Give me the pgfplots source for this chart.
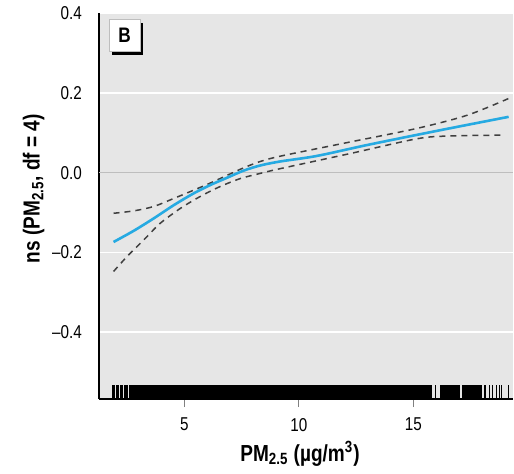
\documentclass[border=0pt]{standalone}
\usepackage{fontspec}
\setmainfont{Liberation Sans}[FakeStretch=0.82]
\usepackage{pgfplots}
\pgfplotsset{compat=1.18}

\definecolor{bggray}{RGB}{230,230,230}
\definecolor{zerogray}{RGB}{190,190,190}
\definecolor{fitblue}{RGB}{38,170,226}
\definecolor{cigray}{RGB}{64,64,64}

\begin{document}
\begin{tikzpicture}
\useasboundingbox (-49.5pt,-37pt) rectangle (207.5pt,199.5pt);
\begin{axis}[
    at={(0,0)}, anchor=south west,
    scale only axis,
    width=207pt, height=192.9pt,
    xmin=1.275, xmax=19.35,
    ymin=-0.568, ymax=0.4,
    axis background/.style={fill=bggray},
    axis x line=bottom, axis y line=left,
    axis line style={-, black, line width=0.6pt},
    xtick={5,10,15}, xticklabels={5,10,15},
    ytick={-0.4,-0.2,0,0.2,0.4},
    yticklabels={–0.4,–0.2,0.0,0.2,0.4},
    tick align=outside,
    x tick style={gray, line width=0.5pt},
    y tick style={draw=none},
    major tick length=4pt,
    ymajorgrids,
    major grid style={white, line width=0.8pt},
    tick label style={font=\fontsize{9.3}{10}\selectfont},
    xticklabel style={yshift=-2pt},
    yticklabel style={xshift=-1pt},
    label style={font=\bfseries\fontsize{11.6}{13}\selectfont},
    xlabel={PM\textsubscript{2.5} (µg/m\textsuperscript{3})},
    ylabel={ns (PM\textsubscript{2.5}, df = 4)},
    xlabel style={yshift=2pt, xshift=-3pt},
    ylabel style={at={(ticklabel cs:0.545)}, yshift=-3pt},
    clip=false,
]

% zero reference line
\addplot[zerogray, line width=0.8pt] coordinates {(1.275,0) (19.35,0)};

% upper confidence band
\addplot[cigray, line width=0.75pt, dash pattern=on 3pt off 2.5pt, smooth, tension=0.5] coordinates {
    (1.91,-0.102) (2.79,-0.096) (3.66,-0.085) (4.53,-0.065) (5.41,-0.044)
    (6.14,-0.026) (6.86,-0.007) (7.59,0.012) (8.32,0.028) (9.25,0.042)
    (12.25,0.077) (15.16,0.111) (17.35,0.144) (19.16,0.186)
};

% lower confidence band
\addplot[cigray, line width=0.75pt, dash pattern=on 3pt off 2.5pt, smooth, tension=0.5] coordinates {
    (1.91,-0.248) (2.49,-0.211) (2.93,-0.186) (3.43,-0.157) (3.95,-0.127)
    (4.82,-0.090) (5.69,-0.060) (6.56,-0.035) (7.44,-0.015) (8.31,-0.002)
    (9.19,0.010) (12.25,0.048) (15.16,0.085) (16.6,0.092) (18.94,0.094)
};

% spline fit
\addplot[fitblue, line width=1.3pt, smooth, tension=0.5] coordinates {
    (1.91,-0.174) (2.79,-0.146) (3.66,-0.115) (4.53,-0.082) (5.41,-0.052)
    (6.14,-0.031) (6.86,-0.013) (7.59,0.005) (8.32,0.018) (9.19,0.028)
    (10.8,0.042) (12.96,0.069) (15.87,0.103) (19.16,0.140)
};

% rug: dense blocks
\addplot[fill=black, draw=none] coordinates {(2.58,-0.568) (2.58,-0.533) (15.80,-0.533) (15.80,-0.568)};
\addplot[fill=black, draw=none] coordinates {(16.18,-0.568) (16.18,-0.533) (17.04,-0.533) (17.04,-0.568)};
\addplot[fill=black, draw=none] coordinates {(17.11,-0.568) (17.11,-0.533) (17.99,-0.533) (17.99,-0.568)};

% rug: single observations
\addplot[only marks, mark=|, mark size=3.5pt, mark options={black, line width=0.6pt}] coordinates {
    (1.87,-0.5505) (1.93,-0.5505) (2.06,-0.5505) (2.12,-0.5505) (2.20,-0.5505)
    (2.25,-0.5505) (2.30,-0.5505) (2.38,-0.5505) (2.43,-0.5505) (2.48,-0.5505)
    (2.53,-0.5505) (15.96,-0.5505) (18.13,-0.5505) (18.32,-0.5505) (18.47,-0.5505)
    (18.64,-0.5505) (18.76,-0.5505) (18.86,-0.5505) (19.15,-0.5505)
};

% panel letter
\node[fill=black, minimum width=15.5pt, minimum height=16pt, inner sep=0pt]
    at ([xshift=1.6pt, yshift=-1.6pt]rel axis cs:0.062,0.942) {};
\node[fill=white, draw=zerogray, line width=0.4pt, minimum width=15.5pt, minimum height=16pt, inner sep=0pt,
      font=\bfseries\fontsize{10.5}{12}\selectfont]
    at (rel axis cs:0.062,0.942) {B};
\end{axis}
\end{tikzpicture}
\end{document}
